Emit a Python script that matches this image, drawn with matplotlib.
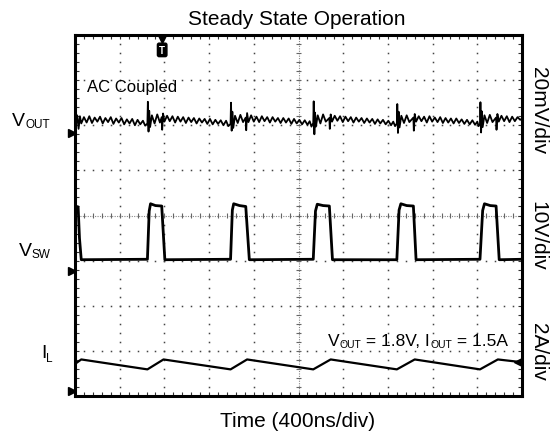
import numpy as np
import matplotlib
matplotlib.use('Agg')
import matplotlib.pyplot as plt
from matplotlib.transforms import IdentityTransform

plt.rcParams['font.family'] = ['Liberation Sans', 'DejaVu Sans']

# ---------------- data (screen divisions: x 0..10, y 0..8) ----------------
vout_t = [0.00, 0.02, 0.05, 0.08, 0.11, 0.14, 0.20, 0.26, 0.32, 0.38, 0.44, 0.50, 0.56, 0.62, 0.68,
          0.74, 0.80, 0.86, 0.92, 0.98, 1.04, 1.10, 1.16, 1.22, 1.28, 1.34, 1.40, 1.46, 1.52, 1.57,
          1.62, 1.63, 1.645, 1.66, 1.68, 1.72, 1.78, 1.84, 1.90, 1.94, 1.95, 1.97, 2.00, 2.06, 2.12,
          2.18, 2.24, 2.30, 2.36, 2.42, 2.48, 2.54, 2.60, 2.66, 2.72, 2.78, 2.84, 2.90, 2.96, 3.02,
          3.08, 3.14, 3.20, 3.26, 3.32, 3.38, 3.43,
          3.48, 3.49, 3.505, 3.52, 3.54, 3.58, 3.64, 3.70, 3.76, 3.82, 3.83, 3.85, 3.88, 3.94, 4.00,
          4.06, 4.12, 4.18, 4.24, 4.30, 4.36, 4.42, 4.48, 4.54, 4.60, 4.66, 4.72, 4.78, 4.84, 4.90,
          4.96, 5.02, 5.08, 5.14, 5.20, 5.25, 5.29,
          5.33, 5.34, 5.355, 5.37, 5.39, 5.43, 5.49, 5.55, 5.61, 5.69, 5.70, 5.72, 5.75, 5.81, 5.87,
          5.93, 5.99, 6.05, 6.11, 6.17, 6.23, 6.29, 6.35, 6.41, 6.47, 6.53, 6.59, 6.65, 6.71, 6.77,
          6.83, 6.89, 6.95, 7.01, 7.07, 7.12, 7.16,
          7.20, 7.21, 7.225, 7.24, 7.26, 7.30, 7.36, 7.42, 7.48, 7.57, 7.58, 7.60, 7.63, 7.69, 7.75,
          7.81, 7.87, 7.93, 7.99, 8.05, 8.11, 8.17, 8.23, 8.29, 8.35, 8.41, 8.47, 8.53, 8.59, 8.65,
          8.71, 8.77, 8.83, 8.89, 8.95, 9.00, 9.03,
          9.06, 9.07, 9.085, 9.10, 9.12, 9.16, 9.22, 9.28, 9.34, 9.42, 9.43, 9.45, 9.48, 9.54, 9.60,
          9.66, 9.72, 9.78, 9.84, 9.90, 9.96, 10.0]
vout_v = [6.15, 6.02, 6.22, 5.92, 6.20, 6.04, 6.18, 6.06, 6.20, 6.05, 6.17, 6.08, 6.19, 6.04, 6.16,
          6.07, 6.18, 6.03, 6.15, 6.06, 6.16, 6.02, 6.13, 6.04, 6.14, 6.00, 6.12, 6.02, 6.10, 5.99,
          6.04, 6.52, 5.86, 6.32, 5.96, 6.22, 6.04, 6.24, 6.06, 6.18, 5.90, 6.26, 6.08, 6.21, 6.09,
          6.20, 6.06, 6.19, 6.08, 6.18, 6.05, 6.17, 6.07, 6.16, 6.04, 6.15, 6.06, 6.14, 6.03, 6.14,
          6.02, 6.12, 6.03, 6.11, 6.00, 6.10, 5.98,
          6.03, 6.50, 5.88, 6.30, 5.94, 6.21, 6.05, 6.23, 6.07, 6.17, 5.89, 6.27, 6.07, 6.22, 6.08,
          6.19, 6.07, 6.20, 6.09, 6.18, 6.06, 6.18, 6.08, 6.16, 6.05, 6.16, 6.06, 6.15, 6.03, 6.14,
          6.04, 6.12, 6.02, 6.11, 6.01, 6.09, 5.97,
          6.05, 6.53, 5.80, 6.28, 5.97, 6.22, 6.04, 6.24, 6.08, 6.16, 5.92, 6.24, 6.08, 6.21, 6.10,
          6.20, 6.07, 6.19, 6.09, 6.18, 6.06, 6.17, 6.08, 6.16, 6.05, 6.15, 6.06, 6.14, 6.03, 6.13,
          6.04, 6.12, 6.02, 6.10, 6.00, 6.08, 5.98,
          6.04, 6.47, 5.83, 6.30, 5.95, 6.21, 6.05, 6.22, 6.07, 6.17, 5.88, 6.25, 6.08, 6.20, 6.09,
          6.19, 6.06, 6.20, 6.08, 6.17, 6.07, 6.18, 6.05, 6.16, 6.06, 6.15, 6.04, 6.15, 6.05, 6.13,
          6.03, 6.12, 6.02, 6.11, 6.01, 6.08, 5.98,
          6.03, 6.51, 5.84, 6.31, 5.96, 6.22, 6.05, 6.23, 6.07, 6.17, 5.90, 6.25, 6.08, 6.21, 6.09,
          6.20, 6.07, 6.19, 6.09, 6.18, 6.12, 6.15]

vsw_t = [0.00, 0.07, 0.10, 0.14,
         1.62, 1.66, 1.69, 1.80, 1.94, 2.01,
         3.48, 3.52, 3.55, 3.68, 3.82, 3.90,
         5.33, 5.38, 5.42, 5.55, 5.69, 5.76,
         7.20, 7.25, 7.29, 7.42, 7.57, 7.63,
         9.06, 9.12, 9.16, 9.29, 9.42, 9.49,
         10.0]
vsw_v = [4.21, 4.19, 3.50, 3.02,
         3.03, 4.10, 4.26, 4.22, 4.21, 3.02,
         3.03, 4.12, 4.26, 4.22, 4.20, 3.02,
         3.03, 4.10, 4.25, 4.22, 4.21, 3.02,
         3.02, 4.12, 4.26, 4.22, 4.21, 3.02,
         3.03, 4.11, 4.26, 4.22, 4.21, 3.02,
         3.03]

il_t = [0.00, 0.14, 1.62, 1.98, 3.48, 3.85, 5.33, 5.72, 7.20, 7.60, 9.06, 9.46, 9.90]
il_v = [0.71, 0.81, 0.59, 0.81, 0.59, 0.81, 0.59, 0.81, 0.59, 0.81, 0.59, 0.81, 0.76]

ground_levels = [5.82, 2.78, 0.11]     # channel reference markers (left edge)
trigger_pos = 1.95

scale_labels = ['20mV/div', '10V/div', '2A/div']
scale_label_y = [111, 236, 352]        # pixel centres

# ---------------- figure ----------------
W, H, DPI = 557, 439, 100
fig = plt.figure(figsize=(W / DPI, H / DPI), dpi=DPI)
fig.patch.set_facecolor('white')
L, R, T, B = 75, 522, 36, 397
ax = fig.add_axes([L / W, 1 - B / H, (R - L) / W, (B - T) / H])
ax.set_xlim(0, 10)
ax.set_ylim(0, 8)

# graticule dots
sub_y = np.arange(0.2, 8.0, 0.2)
sub_x = np.arange(0.2, 10.0, 0.2)
for gx in range(1, 10):
    if gx == 5:
        continue
    ax.plot(np.full_like(sub_y, gx), sub_y, ls='none', marker='s', ms=1.1, mew=0, color='#444444', zorder=1)
for gy in range(1, 8):
    if gy == 4:
        continue
    ax.plot(sub_x, np.full_like(sub_x, gy), ls='none', marker='s', ms=1.1, mew=0, color='#444444', zorder=1)

# centre cross-hair with ticks
ax.axvline(5, ls=(0, (1, 1.2)), lw=0.8, color='#888888', zorder=1)
ax.axhline(4, ls=(0, (1, 1.2)), lw=0.8, color='#888888', zorder=1)
ax.hlines(sub_y, 4.95, 5.05, lw=0.8, color='#666666', zorder=1)
ax.vlines(sub_x, 3.94, 4.06, lw=0.8, color='#666666', zorder=1)

# traces
ax.plot(vout_t, vout_v, color='black', lw=1.3, zorder=3)
ax.plot(vsw_t, vsw_v, color='black', lw=2.0, zorder=3)
ax.plot(il_t, il_v, color='black', lw=1.6, zorder=3)

# markers
ax.plot([-0.06] * len(ground_levels), ground_levels, ls='none', marker='>', ms=6,
        color='black', clip_on=False, zorder=5)
ax.plot(il_t[-1], il_v[-1], marker='<', ms=6, color='black', zorder=5)
ax.plot(trigger_pos, 7.91, marker='v', ms=6, color='black', clip_on=False, zorder=5)
ax.text(trigger_pos, 7.67, 'T', color='white', fontsize=7, fontweight='bold', ha='center', va='center',
        bbox=dict(boxstyle='round,pad=0.18', fc='black', ec='black'), zorder=6)

# border and ticks
for s in ax.spines.values():
    s.set_linewidth(2.2)
    s.set_color('black')
ax.set_xticks(np.arange(0, 10.01, 1))
ax.set_yticks(np.arange(0, 8.01, 1))
ax.set_xticks(sub_x, minor=True)
ax.set_yticks(sub_y, minor=True)
ax.tick_params(which='both', direction='in', length=3, width=0.8, color='#333333',
               top=True, right=True, labelleft=False, labelbottom=False)

# texts
fig.text(297 / W, 1 - 25 / H, 'Steady State Operation', ha='center', va='baseline', fontsize=15)
fig.text(298 / W, 1 - 427 / H, 'Time (400ns/div)', ha='center', va='baseline', fontsize=15)
for lab, yy in zip(scale_labels, scale_label_y):
    fig.text(538 / W, 1 - yy / H, lab, rotation=270, ha='center', va='center', fontsize=15)

fig.text(87 / W, 1 - 92 / H, 'AC Coupled', ha='left', va='baseline', fontsize=12)

renderer = fig.canvas.get_renderer()


def chain(x, y, pieces):
    for s, size, dy in pieces:
        t = fig.text(x, H - (y + dy), s, fontsize=size, transform=IdentityTransform(),
                     ha='left', va='baseline')
        bb = t.get_window_extent(renderer=renderer)
        x = bb.x1


chain(12, 126, [('V', 14, 0), ('OUT', 8.5, 2)])
chain(19, 256, [('V', 14, 0), ('SW', 8.5, 2)])
chain(41, 358, [('I', 14, 0), ('L', 8.5, 4)])
chain(328, 346, [('V', 12.5, 0), ('OUT', 7.5, 2), (' = 1.8V, I', 12.5, 0), ('OUT', 7.5, 2), (' = 1.5A', 12.5, 0)])

fig.savefig('out.png', dpi=DPI, facecolor='white')
